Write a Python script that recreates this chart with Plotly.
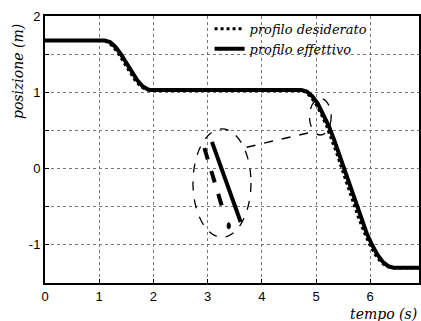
import plotly.graph_objects as go

# effective profile (solid)
t_eff = [0.0, 1.1, 1.2, 1.3, 1.4, 1.5, 1.6, 1.7, 1.8, 1.9, 1.95,
         4.73, 4.83, 4.93, 5.03, 5.13, 5.23, 5.33, 5.43, 5.53, 5.63, 5.73,
         5.83, 5.93, 6.03, 6.13, 6.23, 6.33, 6.43, 6.9]
y_eff = [1.68, 1.68, 1.658, 1.595, 1.50, 1.385, 1.266, 1.159, 1.079, 1.036, 1.03,
         1.03, 1.01, 0.95, 0.855, 0.725, 0.568, 0.385, 0.184, -0.028, -0.243, -0.454,
         -0.655, -0.838, -0.995, -1.125, -1.221, -1.279, -1.30, -1.30]

# desired profile (dotted)
t_des = [0.0, 1.06, 1.16, 1.26, 1.36, 1.46, 1.56, 1.66, 1.76, 1.86, 1.91,
         4.69, 4.79, 4.89, 4.99, 5.09, 5.19, 5.29, 5.39, 5.49, 5.59, 5.69,
         5.79, 5.89, 5.99, 6.09, 6.19, 6.29, 6.39, 6.9]
y_des = [1.68, 1.68, 1.658, 1.595, 1.50, 1.385, 1.266, 1.159, 1.079, 1.036, 1.03,
         1.03, 1.01, 0.95, 0.855, 0.725, 0.568, 0.385, 0.184, -0.028, -0.243, -0.454,
         -0.655, -0.838, -0.995, -1.125, -1.221, -1.279, -1.30, -1.30]

x_ticks = [0, 1, 2, 3, 4, 5, 6]
y_grid = [-1.5, -1, -0.5, 0, 0.5, 1, 1.5, 2]
y_labels = ["", "-1", "", "0", "", "1", "", "2"]

# zoom inset decorations (data coords)
big_ellipse = [2.73, 3.80, -0.90, 0.52]
small_ellipse = [4.88, 5.28, 0.44, 0.92]
connector = [3.72, 0.28, 4.99, 0.49]
inset_solid = [3.08, 0.35, 3.61, -0.70]
inset_dash = [2.94, 0.27, 3.30, -0.58]
inset_dot = [3.39, -0.75]

serif = "DejaVu Serif"
sans = "Liberation Sans"

fig = go.Figure()
fig.add_trace(go.Scatter(x=t_des, y=y_des, mode="lines", name="profilo desiderato",
                         line=dict(color="black", width=3, dash="dot"), hoverinfo="skip"))
fig.add_trace(go.Scatter(x=t_eff, y=y_eff, mode="lines", name="profilo effettivo",
                         line=dict(color="black", width=4), hoverinfo="skip"))

shapes = [
    dict(type="circle", xref="x", yref="y", x0=big_ellipse[0], x1=big_ellipse[1],
         y0=big_ellipse[2], y1=big_ellipse[3], line=dict(color="black", width=1.3, dash="dash")),
    dict(type="circle", xref="x", yref="y", x0=small_ellipse[0], x1=small_ellipse[1],
         y0=small_ellipse[2], y1=small_ellipse[3], line=dict(color="black", width=1.3, dash="dash")),
    dict(type="line", xref="x", yref="y", x0=connector[0], y0=connector[1],
         x1=connector[2], y1=connector[3], line=dict(color="black", width=1.5, dash="dash")),
    dict(type="line", xref="x", yref="y", x0=inset_solid[0], y0=inset_solid[1],
         x1=inset_solid[2], y1=inset_solid[3], line=dict(color="black", width=4)),
    dict(type="line", xref="x", yref="y", x0=inset_dash[0], y0=inset_dash[1],
         x1=inset_dash[2], y1=inset_dash[3], line=dict(color="black", width=4, dash="dash")),
    dict(type="circle", xref="x", yref="y", x0=inset_dot[0] - 0.03, x1=inset_dot[0] + 0.03,
         y0=inset_dot[1] - 0.04, y1=inset_dot[1] + 0.04, fillcolor="black",
         line=dict(color="black", width=1)),
]

fig.update_layout(
    width=421, height=321,
    margin=dict(l=45, r=0, t=16, b=38),
    paper_bgcolor="white", plot_bgcolor="white",
    font=dict(family=sans, size=13, color="black"),
    showlegend=True,
    legend=dict(x=0.44, y=1.008, xanchor="left", yanchor="top",
                bgcolor="rgba(0,0,0,0)", borderwidth=0,
                font=dict(family=serif, size=13, style="italic"),
                tracegroupgap=0, itemwidth=30),
    shapes=shapes,
    annotations=[
        dict(text="posizione (m)", xref="paper", yref="paper", x=0, y=0.79,
             xshift=-27, textangle=-90, showarrow=False, xanchor="center", yanchor="middle",
             font=dict(family=serif, size=14, style="italic")),
        dict(text="tempo (s)", xref="paper", yref="paper", x=1, y=0,
             yshift=-31, showarrow=False, xanchor="right", yanchor="middle",
             font=dict(family=serif, size=14, style="italic")),
    ],
)
fig.update_xaxes(range=[0, 6.9], tickvals=x_ticks, ticktext=[str(v) for v in x_ticks],
                 showgrid=True, gridcolor="#777", griddash="dot", gridwidth=1,
                 showline=True, linecolor="black", linewidth=2, mirror=True,
                 ticks="inside", ticklen=4, tickcolor="black", zeroline=False)
fig.update_yaxes(range=[-1.5, 2], tickvals=y_grid, ticktext=y_labels,
                 showgrid=True, gridcolor="#777", griddash="dot", gridwidth=1,
                 showline=True, linecolor="black", linewidth=2, mirror=True,
                 ticks="inside", ticklen=4, tickcolor="black", zeroline=False)

fig.write_html("out.html", config={"displayModeBar": False},
               post_script="document.body.style.margin='0';document.body.style.overflow='hidden';")
